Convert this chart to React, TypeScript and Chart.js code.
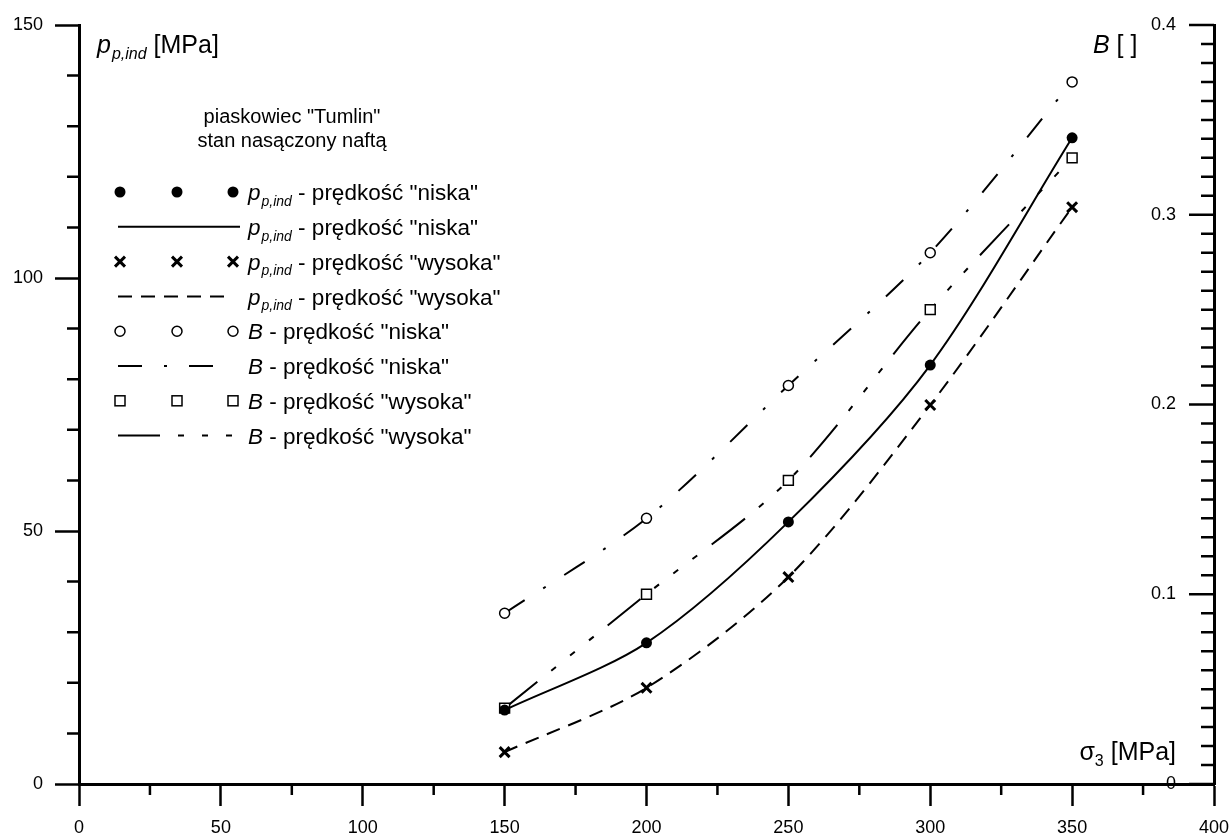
import { useEffect, useRef } from 'react';
import { Chart, registerables } from 'chart.js';

Chart.register(...registerables);

// ---- data ----
const sigma3 = [150, 200, 250, 300, 350];
const ppNiska = [14.6, 27.9, 51.8, 82.8, 127.7];
const ppWysoka = [6.3, 19.0, 40.9, 74.9, 114.0];
const bNiska = [0.09, 0.14, 0.21, 0.28, 0.37];
const bWysoka = [0.04, 0.10, 0.16, 0.25, 0.33];

const xMinorTicks = [25, 75, 125, 175, 225, 275, 325, 375];
const yMinorTicks = [10, 20, 30, 40, 60, 70, 80, 90, 110, 120, 130, 140];
const y2TickCount = 40; // 0.01 steps

const titleLines = ['piaskowiec "Tumlin"', 'stan nasączony naftą'];
const legendRows = [
  { kind: 'dot', sym: 'p', sub: 'p,ind', text: ' - prędkość "niska"' },
  { kind: 'solid', sym: 'p', sub: 'p,ind', text: ' - prędkość "niska"' },
  { kind: 'cross', sym: 'p', sub: 'p,ind', text: ' - prędkość "wysoka"' },
  { kind: 'dashed', sym: 'p', sub: 'p,ind', text: ' - prędkość "wysoka"' },
  { kind: 'ocircle', sym: 'B', sub: '', text: ' - prędkość "niska"' },
  { kind: 'dashdot', sym: 'B', sub: '', text: ' - prędkość "niska"' },
  { kind: 'square', sym: 'B', sub: '', text: ' - prędkość "wysoka"' },
  { kind: 'dash3', sym: 'B', sub: '', text: ' - prędkość "wysoka"' },
];

const FONT = '"Liberation Sans", Arial, sans-serif';
const DASHED = [14, 9];
const DASHDOT = [24, 22, 3, 22];
const DASH3 = [42, 18, 6, 18, 6, 18, 6, 18];

const pts = (ys: number[]) => sigma3.map((x, i) => ({ x, y: ys[i] }));

function drawMarker(ctx: CanvasRenderingContext2D, kind: string, x: number, y: number) {
  ctx.save();
  ctx.strokeStyle = '#000';
  ctx.fillStyle = '#000';
  if (kind === 'dot') {
    ctx.beginPath();
    ctx.arc(x, y, 5.5, 0, Math.PI * 2);
    ctx.fill();
  } else if (kind === 'ocircle') {
    ctx.lineWidth = 1.5;
    ctx.fillStyle = '#fff';
    ctx.beginPath();
    ctx.arc(x, y, 5, 0, Math.PI * 2);
    ctx.fill();
    ctx.stroke();
  } else if (kind === 'square') {
    ctx.lineWidth = 1.5;
    ctx.fillStyle = '#fff';
    ctx.fillRect(x - 5, y - 5, 10, 10);
    ctx.strokeRect(x - 5, y - 5, 10, 10);
  } else if (kind === 'cross') {
    ctx.lineWidth = 3;
    ctx.beginPath();
    ctx.moveTo(x - 5, y - 5);
    ctx.lineTo(x + 5, y + 5);
    ctx.moveTo(x + 5, y - 5);
    ctx.lineTo(x - 5, y + 5);
    ctx.stroke();
  }
  ctx.restore();
}

function drawSymText(
  ctx: CanvasRenderingContext2D,
  x: number,
  y: number,
  sym: string,
  sub: string,
  text: string,
  size: number,
  subSize: number
) {
  ctx.save();
  ctx.fillStyle = '#000';
  ctx.textBaseline = 'alphabetic';
  ctx.textAlign = 'left';
  const base = y + size * 0.36;
  ctx.font = `italic ${size}px ${FONT}`;
  ctx.fillText(sym, x, base);
  let cx = x + ctx.measureText(sym).width;
  if (sub) {
    ctx.font = `italic ${subSize}px ${FONT}`;
    ctx.fillText(sub, cx + 1, base + size * 0.25);
    cx += ctx.measureText(sub).width + 1;
  }
  ctx.font = `${size}px ${FONT}`;
  ctx.fillText(text, cx, base);
  ctx.restore();
}

const decorPlugin = {
  id: 'decor',
  afterDraw(chart: any) {
    const ctx: CanvasRenderingContext2D = chart.ctx;
    const xs = chart.scales.x;
    const ys = chart.scales.y;
    const y2 = chart.scales.y2;
    const area = chart.chartArea;
    ctx.save();
    ctx.strokeStyle = '#000';
    ctx.lineWidth = 2.5;
    ctx.beginPath();
    // minor x ticks
    xMinorTicks.forEach((v) => {
      const px = xs.getPixelForValue(v);
      ctx.moveTo(px, area.bottom);
      ctx.lineTo(px, area.bottom + 11);
    });
    // minor left y ticks
    yMinorTicks.forEach((v) => {
      const py = ys.getPixelForValue(v);
      ctx.moveTo(area.left - 12, py);
      ctx.lineTo(area.left, py);
    });
    // right axis inward ticks
    for (let i = 0; i <= y2TickCount; i++) {
      const py = y2.getPixelForValue(i / 100);
      const len = i % 10 === 0 ? 25 : 13;
      ctx.moveTo(area.right - len, py);
      ctx.lineTo(area.right, py);
    }
    ctx.stroke();

    // axis titles
    drawSymText(ctx, 97, 44, 'p', 'p,ind', ' [MPa]', 25, 16);
    drawSymText(ctx, 1093, 44, 'B', '', ' [ ]', 25, 16);

    // sigma3 label (right-aligned at 1175)
    ctx.fillStyle = '#000';
    ctx.textBaseline = 'alphabetic';
    ctx.font = `25px ${FONT}`;
    const wS = ctx.measureText('σ').width;
    const wM = ctx.measureText(' [MPa]').width;
    ctx.font = `16px ${FONT}`;
    const w3 = ctx.measureText('3').width;
    let sx = 1176 - (wS + w3 + wM);
    const sb = 760;
    ctx.font = `25px ${FONT}`;
    ctx.fillText('σ', sx, sb);
    sx += wS;
    ctx.font = `16px ${FONT}`;
    ctx.fillText('3', sx, sb + 6);
    sx += w3;
    ctx.font = `25px ${FONT}`;
    ctx.fillText(' [MPa]', sx, sb);

    // legend title
    ctx.textAlign = 'center';
    ctx.font = `20px ${FONT}`;
    ctx.fillText(titleLines[0], 292, 123);
    ctx.fillText(titleLines[1], 292, 147);
    ctx.textAlign = 'left';

    // legend rows
    legendRows.forEach((r, i) => {
      const y = 192 + i * 34.8;
      if (['dot', 'cross', 'ocircle', 'square'].includes(r.kind)) {
        [120, 177, 233].forEach((mx) => drawMarker(ctx, r.kind, mx, y));
      } else {
        ctx.save();
        ctx.lineWidth = 2;
        ctx.strokeStyle = '#000';
        let x1 = 240;
        if (r.kind === 'dashed') { ctx.setLineDash(DASHED); x1 = 233; }
        if (r.kind === 'dashdot') { ctx.setLineDash(DASHDOT); x1 = 215; }
        if (r.kind === 'dash3') { ctx.setLineDash(DASH3); x1 = 233; }
        ctx.beginPath();
        ctx.moveTo(118, y);
        ctx.lineTo(x1, y);
        ctx.stroke();
        ctx.restore();
      }
      drawSymText(ctx, 248, y, r.sym, r.sub, r.text, 22.5, 14);
    });
    ctx.restore();
  },
};

export default function App() {
  const ref = useRef<HTMLCanvasElement | null>(null);
  useEffect(() => {
    if (!ref.current) return;
    Chart.defaults.font.family = FONT;
    const lineBase = {
      showLine: true,
      pointRadius: 0,
      borderColor: '#000',
      borderWidth: 2,
      tension: 0.3,
      fill: false,
    };
    const chart = new Chart(ref.current, {
      type: 'scatter',
      data: {
        datasets: [
          { label: 'pp niska', data: pts(ppNiska), yAxisID: 'y', pointStyle: 'circle', pointRadius: 5.5, pointBackgroundColor: '#000', pointBorderColor: '#000', borderWidth: 0, showLine: false },
          { label: 'pp wysoka', data: pts(ppWysoka), yAxisID: 'y', pointStyle: 'crossRot', pointRadius: 7, pointBorderColor: '#000', pointBorderWidth: 3, showLine: false },
          { label: 'B niska', data: pts(bNiska), yAxisID: 'y2', pointStyle: 'circle', pointRadius: 5, pointBackgroundColor: '#fff', pointBorderColor: '#000', pointBorderWidth: 1.5, showLine: false },
          { label: 'B wysoka', data: pts(bWysoka), yAxisID: 'y2', pointStyle: 'rect', pointRadius: 7, pointBackgroundColor: '#fff', pointBorderColor: '#000', pointBorderWidth: 1.5, showLine: false },
          { label: 'pp niska fit', data: pts(ppNiska), yAxisID: 'y', ...lineBase },
          { label: 'pp wysoka fit', data: pts(ppWysoka), yAxisID: 'y', ...lineBase, borderDash: DASHED },
          { label: 'B niska fit', data: pts(bNiska), yAxisID: 'y2', ...lineBase, borderDash: DASHDOT },
          { label: 'B wysoka fit', data: pts(bWysoka), yAxisID: 'y2', ...lineBase, borderDash: DASH3 },
        ] as any,
      },
      options: {
        responsive: false,
        animation: false,
        devicePixelRatio: 1,
        layout: { padding: { left: 0, top: 25, right: 17, bottom: 0 } },
        plugins: { legend: { display: false }, tooltip: { enabled: false } },
        scales: {
          x: {
            type: 'linear',
            position: 'bottom',
            min: 0,
            max: 400,
            ticks: { stepSize: 50, color: '#000', font: { size: 18, lineHeight: 2.3 }, padding: 1, maxRotation: 0, autoSkip: false },
            grid: { drawOnChartArea: false, drawTicks: true, tickLength: 22, tickWidth: 2.5, tickColor: '#000' },
            border: { display: true, color: '#000', width: 3 },
            afterFit: (s: any) => { s.height = 56; },
          },
          y: {
            type: 'linear',
            position: 'left',
            min: 0,
            max: 150,
            ticks: { stepSize: 50, color: '#000', font: { size: 18 }, padding: 12 },
            grid: { drawOnChartArea: false, drawTicks: true, tickLength: 24, tickWidth: 2.5, tickColor: '#000' },
            border: { display: true, color: '#000', width: 3 },
            afterFit: (s: any) => { s.width = 79; },
          },
          y2: {
            type: 'linear',
            position: 'right',
            min: 0,
            max: 0.4,
            ticks: {
              stepSize: 0.1,
              color: '#000',
              font: { size: 18 },
              mirror: true,
              padding: -38,
              callback: (v: any) => (Number(v) === 0 ? '0' : Number(v).toFixed(1)),
            },
            grid: { drawOnChartArea: false, drawTicks: false },
            border: { display: true, color: '#000', width: 3 },
            afterFit: (s: any) => { s.width = 0; },
          },
        },
      } as any,
      plugins: [decorPlugin],
    });
    return () => chart.destroy();
  }, []);
  return (
    <div style={{ position: 'absolute', left: 0, top: 0, width: 1231, height: 840, background: '#fff' }}>
      <canvas ref={ref} width={1231} height={840} style={{ width: 1231, height: 840, display: 'block' }} />
    </div>
  );
}
